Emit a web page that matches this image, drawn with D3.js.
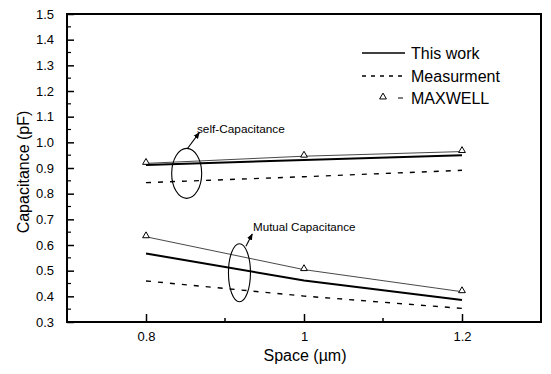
<!DOCTYPE html>
<html>
<head>
<meta charset="utf-8">
<script src="https://cdn.jsdelivr.net/npm/d3@7"></script>
<style>
  html, body { margin: 0; padding: 0; background: #fff; }
  svg { display: block; font-family: "Liberation Sans", Arial, sans-serif; }
</style>
</head>
<body>
<svg id="chart" width="551" height="374"></svg>
<script>
// Line spacing (µm) and capacitance (pF) for each curve
const spacing = [0.8, 1.0, 1.2];
const selfThisWork = [0.912, 0.931, 0.950];
const selfMeasurement = [0.843, 0.866, 0.891];
const selfMaxwell = [0.918, 0.946, 0.964];
const mutualThisWork = [0.567, 0.462, 0.386];
const mutualMeasurement = [0.460, 0.401, 0.353];
const mutualMaxwell = [0.632, 0.504, 0.418];

const xTickValues = [0.8, 1.0, 1.2];
const xMinorTicks = [0.9, 1.1];
const yTickValues = [0.3, 0.4, 0.5, 0.6, 0.7, 0.8, 0.9, 1.0, 1.1, 1.2, 1.3, 1.4, 1.5];
const legendLabels = ["This work", "Measurment", "MAXWELL"];

const svg = d3.select("#chart");
const plotLeft = 67, plotRight = 541, plotTop = 14, plotBottom = 322;

const x = d3.scaleLinear().domain([0.7, 1.3]).range([plotLeft, plotRight]);
const y = d3.scaleLinear().domain([0.3, 1.5]).range([plotBottom, plotTop]);

// Axes with inward ticks
const yAxis = d3.axisLeft(y).tickValues(yTickValues).tickSize(-7).tickPadding(13)
  .tickFormat(d3.format(".1f"));
const gy = svg.append("g").attr("transform", `translate(${plotLeft},0)`).call(yAxis);
gy.select(".domain").remove();
gy.selectAll("line").attr("stroke", "#000").attr("stroke-width", 1.5);
gy.selectAll("text").attr("font-size", 13).attr("fill", "#000");

const yMinor = d3.range(0.35, 1.5, 0.1);
svg.append("g").selectAll("line").data(yMinor).join("line")
  .attr("x1", plotLeft).attr("x2", plotLeft + 4)
  .attr("y1", d => y(d)).attr("y2", d => y(d))
  .attr("stroke", "#000").attr("stroke-width", 1.2);

const xAxis = d3.axisBottom(x).tickValues(xTickValues).tickSize(-8).tickPadding(10)
  .tickFormat(d => d === 1 ? "1" : d3.format(".1f")(d));
const gx = svg.append("g").attr("transform", `translate(0,${plotBottom})`).call(xAxis);
gx.select(".domain").remove();
gx.selectAll("line").attr("stroke", "#000").attr("stroke-width", 1.5);
gx.selectAll("text").attr("font-size", 13).attr("fill", "#000");

svg.append("g").selectAll("line").data(xMinorTicks).join("line")
  .attr("x1", d => x(d)).attr("x2", d => x(d))
  .attr("y1", plotBottom).attr("y2", plotBottom - 4)
  .attr("stroke", "#000").attr("stroke-width", 1.5);

// Plot frame
svg.append("rect").attr("x", plotLeft).attr("y", plotTop)
  .attr("width", plotRight - plotLeft).attr("height", plotBottom - plotTop)
  .attr("fill", "none").attr("stroke", "#000").attr("stroke-width", 2);

// Axis titles
svg.append("text").attr("x", 305).attr("y", 361).attr("text-anchor", "middle")
  .attr("font-size", 16).text("Space (\u00B5m)");
svg.append("text").attr("transform", `translate(29,${(plotTop + plotBottom) / 2 + 4}) rotate(-90)`)
  .attr("text-anchor", "middle").attr("font-size", 16).text("Capacitance (pF)");

const line = d3.line().x(d => x(d[0])).y(d => y(d[1]));
const pairs = vals => spacing.map((s, i) => [s, vals[i]]);

function drawThisWork(vals) {
  svg.append("path").datum(pairs(vals)).attr("d", line)
    .attr("fill", "none").attr("stroke", "#000").attr("stroke-width", 2);
}
function drawMeasurement(vals) {
  svg.append("path").datum(pairs(vals)).attr("d", line)
    .attr("fill", "none").attr("stroke", "#000").attr("stroke-width", 1.4)
    .attr("stroke-dasharray", "5,7");
}
const tri = d3.symbol().type(d3.symbolTriangle).size(20);
function drawMaxwell(vals) {
  svg.append("path").datum(pairs(vals)).attr("d", line)
    .attr("fill", "none").attr("stroke", "#333").attr("stroke-width", 0.9);
  svg.append("g").selectAll("path").data(pairs(vals)).join("path")
    .attr("d", tri)
    .attr("transform", d => `translate(${x(d[0])},${y(d[1]) - 1})`)
    .attr("fill", "#fff").attr("stroke", "#000").attr("stroke-width", 1);
}

drawMeasurement(selfMeasurement);
drawMaxwell(selfMaxwell);
drawThisWork(selfThisWork);
drawMeasurement(mutualMeasurement);
drawMaxwell(mutualMaxwell);
drawThisWork(mutualThisWork);

// Group annotations: ellipse, arrow and label
svg.append("defs").append("marker").attr("id", "arrow")
  .attr("viewBox", "0 0 10 10").attr("refX", 9).attr("refY", 5)
  .attr("markerWidth", 6).attr("markerHeight", 6).attr("orient", "auto")
  .append("path").attr("d", "M0,1 L10,5 L0,9 Z").attr("fill", "#000");

function annotate(cx, cy, rx, ry, from, to, label, lx, ly, fs) {
  svg.append("ellipse").attr("cx", x(cx)).attr("cy", y(cy)).attr("rx", rx).attr("ry", ry)
    .attr("fill", "none").attr("stroke", "#000").attr("stroke-width", 1.1);
  svg.append("line").attr("x1", x(from[0])).attr("y1", y(from[1]))
    .attr("x2", x(to[0])).attr("y2", y(to[1]))
    .attr("stroke", "#000").attr("stroke-width", 1.1).attr("marker-end", "url(#arrow)");
  svg.append("text").attr("x", x(lx)).attr("y", y(ly)).attr("font-size", fs).text(label);
}
annotate(0.8515, 0.879, 15, 25, [0.8525, 0.976], [0.8675, 1.038], "self-Capacitance", 0.8645, 1.037, 11.8);
annotate(0.9183, 0.492, 11, 29, [0.9265, 0.595], [0.9345, 0.643], "Mutual Capacitance", 0.9355, 0.656, 11.6);

// Legend
const legend = svg.append("g");
const rowY = [53, 76, 98];
legend.selectAll("text").data(legendLabels).join("text")
  .attr("x", 411).attr("y", (d, i) => rowY[i] + 6).attr("font-size", 16).text(d => d);
legend.append("line").attr("x1", 362).attr("x2", 405).attr("y1", rowY[0]).attr("y2", rowY[0])
  .attr("stroke", "#000").attr("stroke-width", 1.5);
legend.append("line").attr("x1", 362).attr("x2", 405).attr("y1", rowY[1]).attr("y2", rowY[1])
  .attr("stroke", "#000").attr("stroke-width", 1.4).attr("stroke-dasharray", "4,5");
legend.append("path").attr("d", tri).attr("transform", `translate(383,${rowY[2] - 1})`)
  .attr("fill", "#fff").attr("stroke", "#000").attr("stroke-width", 1);
legend.append("line").attr("x1", 398).attr("x2", 403).attr("y1", rowY[2]).attr("y2", rowY[2])
  .attr("stroke", "#000").attr("stroke-width", 1);
</script>
</body>
</html>
